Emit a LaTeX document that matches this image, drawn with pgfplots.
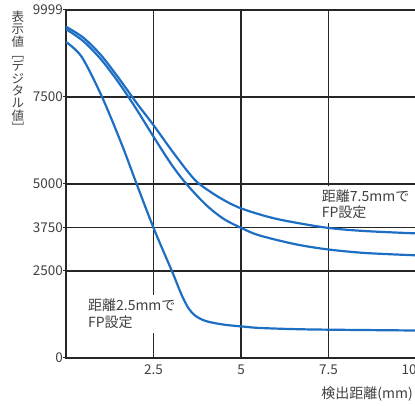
\documentclass[border=0pt]{standalone}
\usepackage{pgfplots}
\pgfplotsset{compat=1.18}
\usepackage{fontspec}
\setmainfont{Noto Sans CJK JP}
\definecolor{cb}{RGB}{30,110,195}
\begin{document}
\begin{tikzpicture}
\begin{axis}[
 at={(0,0)}, anchor=south west,
 scale only axis, width=350pt, height=348pt,
 xmin=0, xmax=10, ymin=0, ymax=9999,
 xtick={2.5,5,7.5,10}, xticklabels={2.5,5,7.5,{10\rule{14pt}{0pt}}},
 ytick={0,2500,3750,5000,7500,9999}, yticklabels={0,2500,3750,5000,7500,9999},
 grid=major, major grid style={black!85, line width=1.2pt},
 axis line style={black!85, line width=1.3pt},
 tick align=outside, major tick length=3pt,
 xtick style={/pgfplots/major tick length=0pt},
 ytick style={black!85, line width=1pt},
 ticklabel style={font=\fontsize{13.5}{14}\selectfont, text=black!75},
 yticklabel style={inner xsep=0pt},
 clip=false,
]
\addplot[cb, line width=2.2pt, smooth, tension=0.5] coordinates {
(0,9520) (0.5,9200) (1,8700) (1.5,8050) (2,7350) (2.5,6690) (3,5990) (3.5,5330) (3.81,5000) (4.4,4600) (5,4300) (6,4000) (7.4,3750) (8.5,3650) (10,3580)};
\addplot[cb, line width=2.2pt, smooth, tension=0.5] coordinates {
(0,9450) (0.5,9100) (1,8580) (1.5,7920) (2,7170) (2.5,6360) (3,5580) (3.44,5000) (4,4400) (4.5,4000) (5,3740) (5.5,3530) (6.5,3280) (7.4,3130) (8.5,3020) (10,2950)};
\addplot[cb, line width=2.2pt, smooth, tension=0.5] coordinates {
(0,9080) (0.45,8650) (1.03,7500) (1.6,6120) (2,5050) (2.5,3740) (3.05,2440) (3.3,1820) (3.5,1430) (3.7,1210) (4,1060) (4.5,960) (5.09,900) (5.6,860) (7,820) (10,790)};
\node[anchor=north west, fill=white, inner xsep=3pt, inner ysep=4pt, align=left, text=black!75, font=\fontsize{14}{16.5}\selectfont] at (axis cs:0.54,1810) {距離2.5mmで\\FP設定};
\node[anchor=north west, fill=white, inner xsep=3pt, inner ysep=4pt, align=left, text=black!75, font=\fontsize{14}{16.5}\selectfont] at (axis cs:7.22,4960) {距離7.5mmで\\FP設定};
\end{axis}
\node[anchor=east, inner sep=0pt, text=black!75, font=\fontsize{14}{15}\selectfont] at (347pt,-36pt) {検出距離(mm)};
\node[anchor=north, align=center, inner sep=0pt, text=black!75, font=\fontsize{12.5}{12.3}\selectfont] at (-48pt,347pt) {表\\示\\値\\﹇\\デ\\ジ\\タ\\ル\\値\\﹈};
\pgfresetboundingbox
\path[use as bounding box] (-66pt,-48pt) rectangle (349pt,358pt);
\end{tikzpicture}
\end{document}
